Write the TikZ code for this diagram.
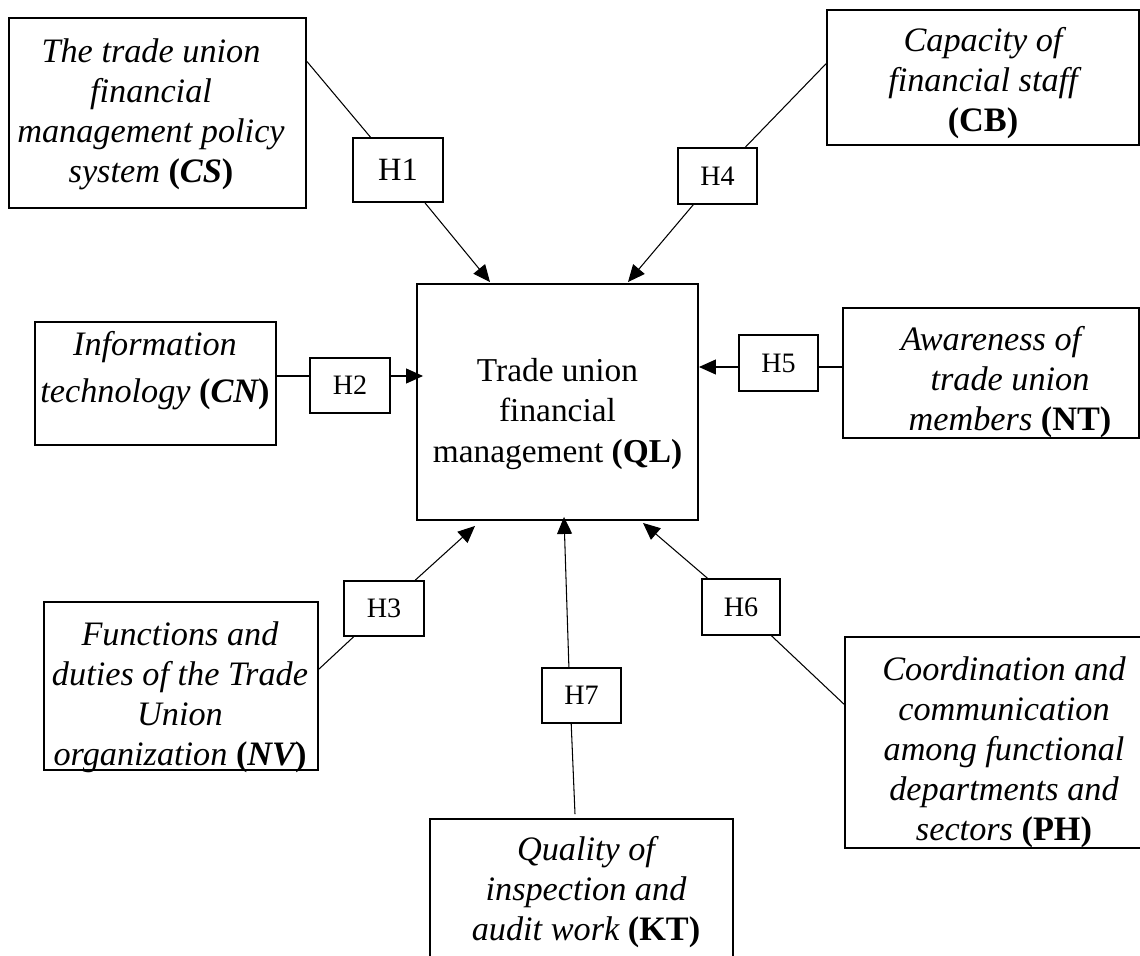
\documentclass[tikz,border=0pt]{standalone}
\usepackage{fontspec}
\setmainfont{Liberation Serif}
\usetikzlibrary{arrows.meta,calc}

\newcommand{\varit}[1]{\textbf{\upshape(\itshape #1\upshape)}}
\newcommand{\varup}[1]{\textbf{\upshape(#1)}}

\tikzset{
	fact/.style 2 args={draw, line width=1.1pt, inner sep=0pt, minimum width=#1*0.02cm, minimum height=#2*0.02cm},
	hyp/.style 2 args={fact={#1}{#2}, line width=0.9pt, font=\fontsize{16}{19}\selectfont},
	txt/.style={align=center, inner sep=0pt, font=\fontsize{19.5}{22.8}\selectfont\itshape},
	link/.style={line width=0.6pt},
	arr/.style={link, -{Triangle[length=0.34cm,width=0.3cm]}}
}

\begin{document}
\begin{tikzpicture}[x=0.02cm, y=-0.02cm]
	\useasboundingbox (0,0) rectangle (1140,956);
	\clip (0,0) rectangle (1140,956);

	% factor boxes
	\node[fact={297}{190}] (cs) at (157.5,113) {};
	\node[fact={312}{135}] (cb) at (983,77.5) {};
	\node[fact={281}{236}] (ql) at (557.5,402) {};
	\node[fact={241}{123}] (cn) at (155.5,383.5) {};
	\node[fact={296}{130}] (nt) at (991,373) {};
	\node[fact={274}{168}] (nv) at (181,686) {};
	\node[fact={305}{211}] (ph) at (997.5,742.5) {};
	\node[fact={303}{200}] (kt) at (581.5,919) {};

	\node[txt] (cs-t) at (151,114.5) {The trade union\\ financial\\ management policy\\ system \varit{CS}};
	\node[txt] (cb-t) at (983,83) {Capacity of\\ financial staff\\ \varup{CB}};
	\node[txt, font=\fontsize{19}{22.8}\selectfont\upshape] (ql-t) at (557.5,414) {Trade union\\ financial\\ management \varup{QL}};
	\node[txt] (cn-t) at (155,370.5) {Information\\[0.14cm] technology \varit{CN}};
	\node[txt] (nt-t) at (991,382) {Awareness of\\ \hspace*{0.76cm}trade union\\ \hspace*{0.76cm}members \varup{NT}};
	\node[txt] (nv-t) at (180,697) {Functions and\\ duties of the Trade\\ Union\\ organization \varit{NV}};
	\node[txt] (ph-t) at (1004,752) {Coordination and\\ communication\\ among functional\\ departments and\\ sectors \varup{PH}};
	\node[txt] (kt-t) at (586,892) {Quality of\\ inspection and\\ audit work \varup{KT}};

	% hypotheses
	\node[hyp={90}{64}, font=\fontsize{18.5}{22}\selectfont] (h1) at (398,170) {H1};
	\node[hyp={80}{55}] (h2) at (350,385.5) {H2};
	\node[hyp={80}{55}] (h3) at (384,608.5) {H3};
	\node[hyp={79}{56}] (h4) at (717.5,176) {H4};
	\node[hyp={79}{56}] (h5) at (778.5,363) {H5};
	\node[hyp={78}{56}] (h6) at (741,607) {H6};
	\node[hyp={79}{55}] (h7) at (581.5,695.5) {H7};

	\coordinate (l2) at (0,376);
	\coordinate (l5) at (0,367);

	\draw[link] (cs.19) -- (h1);
	\draw[arr] (h1) -- ($(ql.north)+(-67.5,-1)$);
	\draw[link] (cb.175) -- (h4);
	\draw[arr] (h4) -- ($(ql.north)+(70.5,-1)$);
	\draw[link] (cn.east |- l2) -- (h2.west |- l2);
	\draw[arr] (h2.east |- l2) -- ($(ql.west |- l2)+(7,0)$);
	\draw[link] (nt.west |- l5) -- (h5.east |- l5);
	\draw[arr] (h5.west |- l5) -- (ql.east |- l5);
	\draw[link] (nv.7) -- (h3);
	\draw[arr] (h3) -- ($(ql.south)+(-82.5,5)$);
	\draw[link] ($(kt.north)+(-6.5,-4)$) -- (h7.-110);
	\draw[arr] (h7.114) -- ($(ql.south)+(6.5,-4)$);
	\draw[link] (ph.166) -- (h6);
	\draw[arr] (h6) -- ($(ql.south)+(85.5,2)$);
\end{tikzpicture}
\end{document}
